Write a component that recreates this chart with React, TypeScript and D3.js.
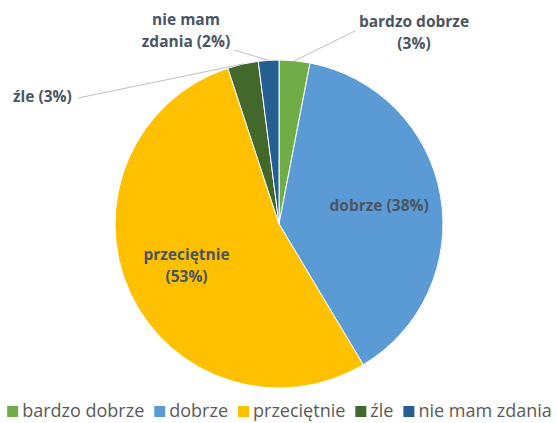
import { useEffect, useRef } from "react"
import * as d3 from 'd3'

const categories = ["bardzo dobrze", "dobrze", "przeciętnie", "źle", "nie mam zdania"]
const values = [3, 38, 53, 3, 2]
const colors = ["#70AD47", "#5B9BD5", "#FFC000", "#43682B", "#255E91"]
const labelLines = [["bardzo dobrze", "(3%)"], ["dobrze (38%)"], ["przeciętnie", "(53%)"], ["źle (3%)"], ["nie mam", "zdania (2%)"]]

const W = 557
const H = 423
const cx = 279
const cy = 224
const R = 164

// where the outside labels sit (inside ones use the centroid)
const labelPlace: ({ x: number, y: number, anchor: string } | null)[] = [
  { x: 414, y: 27, anchor: "middle" },
  null,
  null,
  { x: 13, y: 102, anchor: "start" },
  { x: 186, y: 25, anchor: "middle" },
]
const lineEnd: ([number, number] | null)[] = [[355, 31], null, null, [78, 98], [234, 50]]

const App = () => {
  const ref = useRef<SVGSVGElement>(null)

  useEffect(() => {
    const svg = d3.select(ref.current)
    svg.selectAll("*").remove()
    const font = "'Open Sans', sans-serif"

    const pie = d3.pie<number>().sort(null).value(d => d)
    const arcs = pie(values)
    const arc = d3.arc<d3.PieArcDatum<number>>().innerRadius(0).outerRadius(R)
    const labelArc = d3.arc<d3.PieArcDatum<number>>().innerRadius(R * 0.62).outerRadius(R * 0.62)
    const edgeArc = d3.arc<d3.PieArcDatum<number>>().innerRadius(R).outerRadius(R)

    const g = svg.append("g").attr("transform", `translate(${cx},${cy})`)
    g.selectAll("path.slice")
      .data(arcs)
      .join("path")
      .attr("class", "slice")
      .attr("d", arc)
      .attr("fill", (_, i) => colors[i])
      .attr("stroke", "#fff")
      .attr("stroke-width", 1)

    // leader lines
    arcs.forEach((a, i) => {
      const end = lineEnd[i]
      if (!end) return
      const [ex, ey] = edgeArc.centroid(a)
      svg.append("line")
        .attr("x1", cx + ex).attr("y1", cy + ey)
        .attr("x2", end[0]).attr("y2", end[1])
        .attr("stroke", "#BFBFBF").attr("stroke-width", 1)
    })

    // data labels
    arcs.forEach((a, i) => {
      const lines = labelLines[i]
      const place = labelPlace[i]
      let x: number, y: number, anchor: string
      if (place) {
        x = place.x; y = place.y; anchor = place.anchor
      } else {
        const [lx, ly] = labelArc.centroid(a)
        x = cx + lx; anchor = "middle"
        y = cy + ly - (lines.length - 1) * 11 + 5
      }
      const t = svg.append("text")
        .attr("x", x).attr("y", y)
        .attr("text-anchor", anchor)
        .attr("font-family", font)
        .attr("font-size", 15.5)
        .attr("font-weight", "bold")
        .attr("fill", "#4A5562")
      lines.forEach((l, j) => {
        t.append("tspan").attr("x", x).attr("dy", j === 0 ? 0 : 22).text(l)
      })
    })

    // legend
    const legend = svg.append("g")
    let lx = 0
    categories.forEach((c, i) => {
      const item = legend.append("g").attr("transform", `translate(${lx},0)`)
      item.append("rect").attr("x", 0).attr("y", -11).attr("width", 11).attr("height", 11).attr("fill", colors[i])
      const txt = item.append("text")
        .attr("x", 15).attr("y", 0)
        .attr("font-family", font)
        .attr("font-size", 18)
        .attr("fill", "#595959")
        .text(c)
      const w = (txt.node() as SVGTextElement).getComputedTextLength()
      lx += 15 + w + 10
    })
    const total = lx - 10
    legend.attr("transform", `translate(${(W - total) / 2 + 1},${417})`)
  }, [])

  return (
    <svg ref={ref} width={W} height={H} style={{ position: "absolute", left: 0, top: 0, background: "#fff" }} />
  )
}

export default App
